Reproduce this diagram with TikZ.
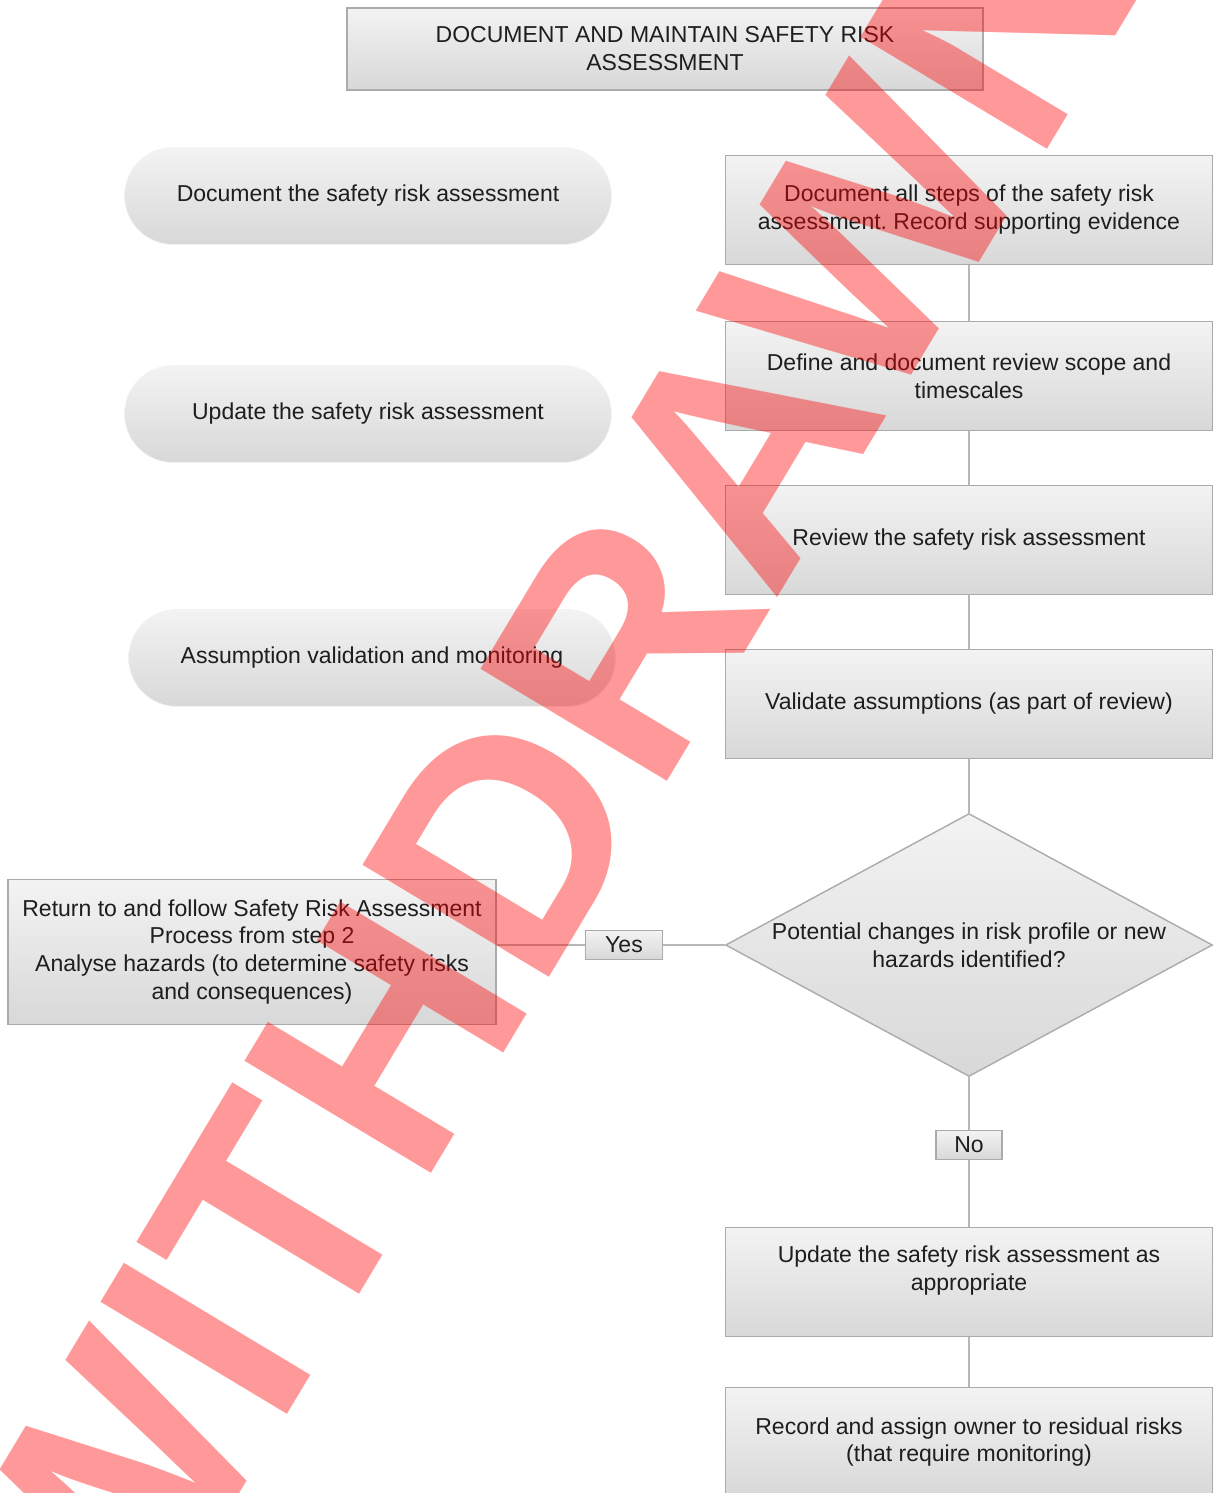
\documentclass[tikz,border=0pt]{standalone}
\usepackage{fontspec}
\setmainfont{Liberation Sans}
\usetikzlibrary{shapes.geometric}
\frenchspacing
\definecolor{boxtop}{HTML}{F3F3F3}
\definecolor{boxbot}{HTML}{D8D8D8}
\definecolor{boxline}{HTML}{ABABAB}
\definecolor{linkgray}{HTML}{B8B8B8}
\definecolor{txt}{HTML}{1E1E1E}
\tikzset{
  stepbox/.style={rectangle, draw=boxline, line width=0.8pt, top color=boxtop, bottom color=boxbot,
    minimum width=9.74cm, minimum height=2.18cm, align=center, inner sep=0pt, text=txt},
  pill/.style={rectangle, rounded corners=0.97cm, draw=boxtop, top color=boxtop, bottom color=boxbot,
    minimum width=9.74cm, minimum height=1.94cm, align=center, inner sep=0pt, text=txt},
  decision/.style={diamond, draw=boxline, line width=0.8pt, top color=boxtop, bottom color=boxbot,
    minimum width=9.74cm, minimum height=5.26cm, inner sep=0pt},
  tagbox/.style={rectangle, draw=boxline, line width=0.8pt, top color=boxtop, bottom color=boxbot,
    minimum height=0.58cm, inner sep=0pt, text=txt},
  link/.style={draw=linkgray, line width=1.1pt}
}
\begin{document}
\begin{tikzpicture}[x=0.02cm, y=-0.02cm, every node/.style={font=\fontsize{13.1}{15.9}\selectfont}]
        \useasboundingbox (0,0) rectangle (1221,1493);
        \clip (0,0) rectangle (1221,1493);
        \fill[white] (0,0) rectangle (1221,1493);
        % heading
        \node[stepbox, minimum width=12.72cm, minimum height=1.64cm] (title) at (665,49) {DOCUMENT AND MAINTAIN SAFETY RISK\\ASSESSMENT};
        % left column
        \node[pill] (pdoc) at (368,196) {Document the safety risk assessment};
        \node[pill] (pupdate) at (368,414) {Update the safety risk assessment};
        \node[pill] (passume) at (372,658) {Assumption validation and monitoring};
        \node[stepbox, minimum width=9.76cm, minimum height=2.9cm] (returnbox) at (252,952) {Return to and follow Safety Risk Assessment\\Process from step 2\\Analyse hazards (to determine safety risks\\and consequences)};
        % right column
        \node[stepbox] (recsteps) at (969,210) {Document all steps of the safety risk\\assessment. Record supporting evidence};
        \node[stepbox] (defscope) at (969,376) {Define and document review scope and\\timescales};
        \node[stepbox] (review) at (969,540) {Review the safety risk assessment};
        \node[stepbox] (validate) at (969,704) {Validate assumptions (as part of review)};
        \node[decision] (check) at (969,945) {};
        \node[align=center, text=txt] (checktext) at (check) {Potential changes in risk profile or new\\hazards identified?};
        \node[tagbox, minimum width=1.54cm] (yeslabel) at (624,945) {Yes};
        \node[tagbox, minimum width=1.32cm] (nolabel) at (969,1145) {No};
        \node[stepbox] (updateapp) at (969,1282) {Update the safety risk assessment as\\appropriate\\\mbox{}};
        \node[stepbox] (residual) at (969,1442) {Record and assign owner to residual risks\\(that require monitoring)};
        % connectors
        \draw[link] (recsteps.south) -- (defscope.north);
        \draw[link] (defscope.south) -- (review.north);
        \draw[link] (review.south) -- (validate.north);
        \draw[link] (validate.south) -- (check.north);
        \draw[link] (check.south) -- (nolabel.north);
        \draw[link] (nolabel.south) -- (updateapp.north);
        \draw[link] (updateapp.south) -- (residual.north);
        \draw[link] (check.west) -- (yeslabel.east);
        \draw[link] (yeslabel.west) -- (yeslabel.west -| returnbox.east);
        % watermark
        \node[rotate=59, anchor=base, text=red, text opacity=0.4, font=\fontsize{180}{180}\bfseries\selectfont] (stamp) at (638,830) {WITHDRAWN};
\end{tikzpicture}
\end{document}
